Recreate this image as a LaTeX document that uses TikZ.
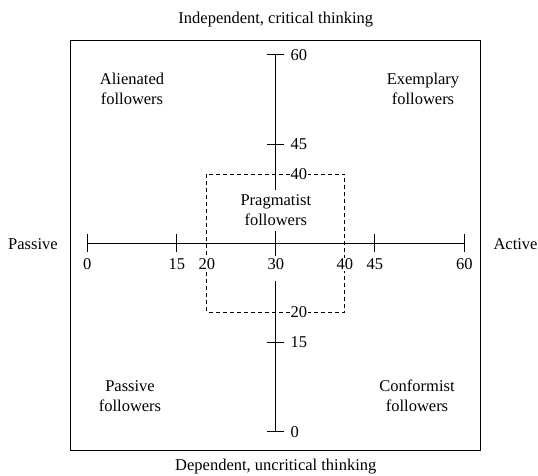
\documentclass[tikz,border=0pt]{standalone}
\usepackage{fontspec}
\setmainfont{Liberation Serif}
\begin{document}
\begin{tikzpicture}[x=1pt,y=-1pt,font=\fontsize{16.5}{20}\selectfont]
\tikzset{
  axisline/.style={line width=1.2pt},
  frameline/.style={line width=1.2pt},
  dashbox/.style={line width=0.9pt,dash pattern=on 4pt off 3pt},
  hnum/.style={anchor=base,fill=white,inner xsep=1pt,inner ysep=1pt},
  vnum/.style={anchor=west,fill=white,inner sep=1pt},
  quad/.style={align=center,anchor=base,inner sep=0pt},
  side/.style={anchor=base,inner sep=0pt},
}
\useasboundingbox (0,0) rectangle (538,475);
% frame
\draw[frameline] (70.8,40.2) rectangle (480.8,450.5);
% coordinates
\coordinate (h0) at (87.3,243.3);
\coordinate (h15) at (176.8,243.3);
\coordinate (h30) at (275.8,243.3);
\coordinate (h45) at (374.8,243.3);
\coordinate (h60) at (464.3,243.3);
\coordinate (v60) at (275.8,54.8);
\coordinate (v45) at (275.8,144.3);
\coordinate (v15) at (275.8,342.3);
\coordinate (v0) at (275.8,431.8);
\coordinate (d1) at (206.8,174.3);
\coordinate (d2) at (344.8,312.3);
% dashed box
\draw[dashbox] (d1) rectangle (d2);
% axes
\draw[axisline] (h0) -- (h60);
\draw[axisline] (v60) -- (v0);
\foreach \p in {h0,h15,h30,h45,h60}
  \draw[axisline] (\p) ++(0,-9) -- ++(0,18);
\foreach \p in {v60,v45,v15,v0}
  \draw[axisline] (\p) ++(-8.5,0) -- ++(17,0);
% horizontal labels
\node[hnum] (l0) at (87.3,269.5) {0};
\node[hnum] (l15) at (176.8,269.5) {15};
\node[hnum] (l20) at (206.8,269.5) {20};
\node[hnum,text depth=8pt,inner ysep=3pt] (l30) at (275.8,269.5) {30};
\node[hnum] (l40) at (344.8,269.5) {40};
\node[hnum] (l45) at (374.8,269.5) {45};
\node[hnum] (l60) at (464.3,269.5) {60};
% vertical labels
\node[vnum] (m60) at (289.5,54.8) {60};
\node[vnum] (m45) at (289.5,144.3) {45};
\node[vnum] (m40) at (289.5,174.3) {40};
\node[vnum] (m20) at (289.5,312.3) {20};
\node[vnum] (m15) at (289.5,342.3) {15};
\node[vnum] (m0) at (289.5,431.8) {0};
% centre label
\node[align=center,fill=white,inner xsep=2pt,inner ysep=5pt] (prag) at (275.8,210.5) {Pragmatist\\followers};
% quadrant labels
\node[quad] (alien) at (132,104) {Alienated\\followers};
\node[quad] (exem) at (423,104) {Exemplary\\followers};
\node[quad] (pass) at (130,411.5) {Passive\\followers};
\node[quad] (conf) at (417,411.5) {Conformist\\followers};
% side labels
\node[side] (top) at (275.8,23.5) {Independent, critical thinking};
\node[side] (bot) at (275.8,470) {Dependent, uncritical thinking};
\node[side] (left) at (33,249.5) {Passive};
\node[side] (right) at (515.5,249.5) {Active};
\end{tikzpicture}
\end{document}
